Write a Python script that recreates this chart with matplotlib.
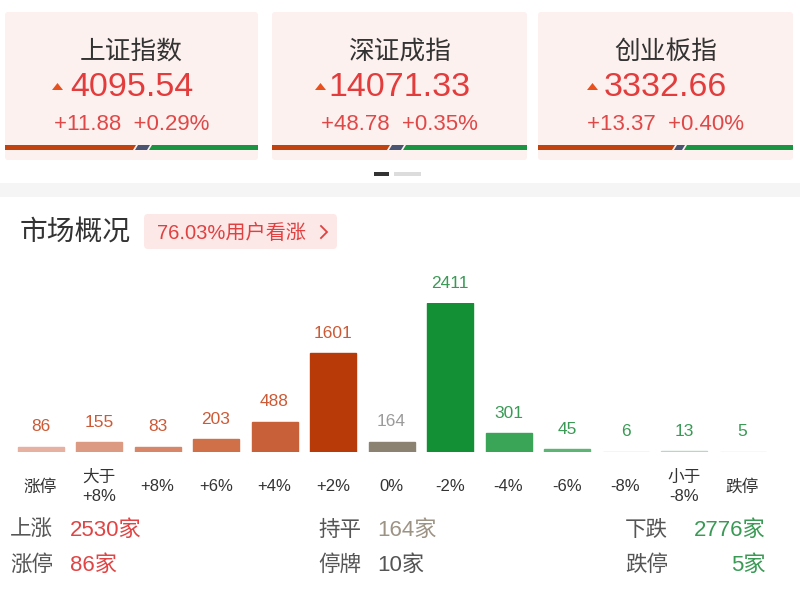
import matplotlib
matplotlib.use("Agg")
import matplotlib.pyplot as plt
from matplotlib.patches import FancyBboxPatch, Rectangle, Polygon

plt.rcParams['font.family'] = ['Liberation Sans', 'Noto Sans CJK SC', 'DejaVu Sans']

# index cards
index_names = ['上证指数', '深证成指', '创业板指']
index_values = ['4095.54', '14071.33', '3332.66']
index_changes = ['+11.88', '+48.78', '+13.37']
index_pcts = ['+0.29%', '+0.35%', '+0.40%']

# market overview distribution
categories = ['涨停', '大于\n+8%', '+8%', '+6%', '+4%', '+2%', '0%',
              '-2%', '-4%', '-6%', '-8%', '小于\n-8%', '跌停']
counts = [86, 155, 83, 203, 488, 1601, 164, 2411, 301, 45, 6, 13, 5]
bar_colors = ['#e6b1a0', '#dc9a82', '#d7866a', '#cf7048', '#c8603a', '#b83a08',
              '#8b8272', '#138f36', '#3aa457', '#5cb575', '#b7dcc3', '#b3d9c0', '#cfe8d7']
label_colors = ['#cc5a36'] * 6 + ['#9b9b9b'] + ['#3a9a55'] * 6

bull_ratio = '76.03%'

# summary rows
summary_left = [('上涨', '2530家', '#e04444'), ('涨停', '86家', '#e04444')]
summary_mid = [('持平', '164家', '#9c9384'), ('停牌', '10家', '#555555')]
summary_right = [('下跌', '2776家', '#3a9a55'), ('跌停', '5家', '#3a9a55')]

W, H = 800, 589
fig = plt.figure(figsize=(W / 100, H / 100), dpi=100)
fig.patch.set_facecolor('white')

ax0 = fig.add_axes([0, 0, 1, 1])
ax0.set_xlim(0, W)
ax0.set_ylim(H, 0)
ax0.axis('off')

# cards: left, right, red end, blue end, triangle left
card_boxes = [(5, 258, 134, 148, 52), (272, 527, 388, 402, 315), (538, 793, 673, 683, 587)]
for i, (x0, x1, r_end, b_end, tri_x) in enumerate(card_boxes):
    ax0.add_patch(FancyBboxPatch((x0, 12), x1 - x0, 148,
                                 boxstyle='round,pad=0,rounding_size=3',
                                 fc='#fcf1ef', ec='none'))
    cx = (x0 + x1) / 2
    ax0.text(cx, 52, index_names[i], ha='center', va='center',
             fontsize=18.5, color='#333333')
    ax0.text(cx, 87, index_values[i], ha='center', va='center',
             fontsize=24.5, color='#e23c3c')
    ax0.add_patch(Polygon([(tri_x, 90), (tri_x + 11, 90), (tri_x + 5.5, 83)],
                          closed=True, fc='#e8501e', ec='none'))
    ax0.text(cx, 124, index_changes[i] + '  ' + index_pcts[i], ha='center',
             va='center', fontsize=16, color='#e04848')
    # stripe
    y_top, y_bot = 145, 150
    ax0.add_patch(Polygon([(x0, y_bot), (x0, y_top), (r_end + 2, y_top), (r_end - 1, y_bot)],
                          closed=True, fc='#c1420e', ec='none'))
    ax0.add_patch(Polygon([(r_end + 1, y_bot), (r_end + 4, y_top), (b_end + 2, y_top), (b_end - 1, y_bot)],
                          closed=True, fc='#4b5572', ec='none'))
    ax0.add_patch(Polygon([(b_end + 1, y_bot), (b_end + 4, y_top), (x1, y_top), (x1, y_bot)],
                          closed=True, fc='#1a9440', ec='none'))

# pager dots
ax0.add_patch(Rectangle((374, 172), 15, 4, fc='#333333', ec='none'))
ax0.add_patch(Rectangle((394, 172), 27, 4, fc='#dcdcdc', ec='none'))

# gray separator band
ax0.add_patch(Rectangle((0, 183), W, 14, fc='#f5f5f5', ec='none'))

# section header
ax0.text(20, 233, '市场概况', ha='left', va='center', fontsize=20, color='#333333')
ax0.add_patch(FancyBboxPatch((144, 214), 193, 35,
                             boxstyle='round,pad=0,rounding_size=4',
                             fc='#fde8e8', ec='none'))
ax0.text(157, 233, bull_ratio + '用户看涨', ha='left', va='center',
         fontsize=14.5, color='#e04040')
ax0.plot([321, 327, 321], [226, 232, 238], color='#e04040', lw=1.3,
         solid_joinstyle='miter')

# summary rows
for row, y in enumerate([530, 565]):
    lab, val, col = summary_left[row]
    ax0.text(10, y, lab, ha='left', va='center', fontsize=15.5, color='#555555')
    ax0.text(70, y, val, ha='left', va='center', fontsize=16, color=col)
    lab, val, col = summary_mid[row]
    ax0.text(318, y, lab, ha='left', va='center', fontsize=15.5, color='#555555')
    ax0.text(377, y, val, ha='left', va='center', fontsize=16, color=col)
    lab, val, col = summary_right[row]
    ax0.text(625, y, lab, ha='left', va='center', fontsize=15.5, color='#555555')
    ax0.text(766, y, val, ha='right', va='center', fontsize=16, color=col)

# bar chart
step = 58.5
left_px = 40.5 - step / 2
base_px, top_px = 452, 303
ax = fig.add_axes([left_px / W, (H - base_px) / H, len(counts) * step / W,
                   (base_px - top_px) / H])
ax.set_facecolor('none')
x = list(range(len(counts)))
ax.bar(x, counts, width=46 / step, color=bar_colors, edgecolor=bar_colors, linewidth=1.0)
ax.set_xlim(-0.5, len(counts) - 0.5)
ax.set_ylim(0, max(counts))
for i, v in enumerate(counts):
    ax.annotate(str(v), (i, v), xytext=(0, 14.4), textcoords='offset points',
                ha='center', va='center', fontsize=12.5, color=label_colors[i],
                annotation_clip=False)
ax.set_xticks(x)
ax.set_xticklabels(categories, fontsize=12, color='#333333', linespacing=1.3)
for t in ax.get_xticklabels():
    t.set_va('center')
ax.tick_params(axis='x', length=0, pad=25)
ax.set_yticks([])
for s in ax.spines.values():
    s.set_visible(False)

fig.savefig('out.png', dpi=100)
